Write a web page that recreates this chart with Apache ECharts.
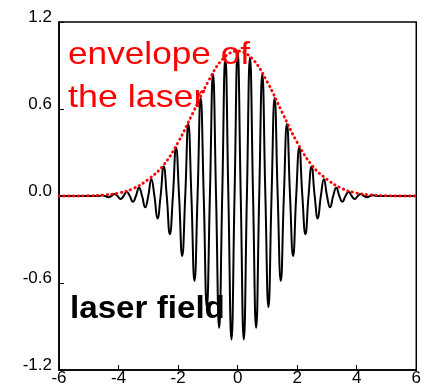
<!DOCTYPE html>
<html>
<head>
<meta charset="utf-8">
<script src="https://cdn.jsdelivr.net/npm/echarts@6/dist/echarts.min.js"></script>
<style>
html,body{margin:0;padding:0;background:#fff;}
#c{width:424px;height:387px;}
</style>
</head>
<body>
<div id="c"></div>
<script>
// Laser field: extrema (peaks/troughs)
const peakX = [-4.554, -4.347, -4.14, -3.933, -3.726, -3.519, -3.312, -3.105, -2.898, -2.691, -2.484, -2.277, -2.07, -1.863, -1.656, -1.449, -1.242, -1.035, -0.828, -0.621, -0.414, -0.207,
  0,
  0.207, 0.414, 0.621, 0.828, 1.035, 1.242, 1.449, 1.656, 1.863, 2.07, 2.277, 2.484, 2.691, 2.898, 3.105, 3.312, 3.519, 3.726, 3.933, 4.14, 4.347, 4.554];
const peakY = [0.005, -0.008, 0.013, -0.02, 0.03, -0.04, 0.057, -0.078, 0.116, -0.155, 0.203, -0.263, 0.334, -0.413, 0.496, -0.586, 0.676, -0.766, 0.842, -0.909, 0.956, -0.99,
  1.0,
  -0.99, 0.956, -0.909, 0.842, -0.766, 0.676, -0.586, 0.496, -0.413, 0.334, -0.263, 0.203, -0.155, 0.116, -0.078, 0.057, -0.04, 0.03, -0.02, 0.013, -0.008, 0.005];
// Points where the field is on the zero line (crossings and flat ends)
const zeroX = [-6, -4.658, -4.451, -4.244, -4.037, -3.83, -3.623, -3.416, -3.209, -3.002, -2.795, -2.588, -2.381, -2.174, -1.967, -1.76, -1.553, -1.346, -1.139, -0.932, -0.725, -0.518, -0.311, -0.104,
  0.104, 0.311, 0.518, 0.725, 0.932, 1.139, 1.346, 1.553, 1.76, 1.967, 2.174, 2.381, 2.588, 2.795, 3.002, 3.209, 3.416, 3.623, 3.83, 4.037, 4.244, 4.451, 4.658, 6];

// Envelope of the laser
const envX = [-6, -5.5, -5, -4.5, -4, -3.5, -3, -2.5, -2, -1.5, -1, -0.5, 0, 0.5, 1, 1.5, 2, 2.5, 3, 3.5, 4, 4.5, 5, 5.5, 6];
const envY = [0, 0, 0.002, 0.007, 0.02, 0.052, 0.115, 0.21, 0.37, 0.575, 0.785, 0.945, 1.0, 0.945, 0.785, 0.575, 0.37, 0.21, 0.115, 0.052, 0.02, 0.007, 0.002, 0, 0];

const xTicks = [-6, -4, -2, 0, 2, 4, 6];
const yTicks = [-1.2, -0.6, 0.0, 0.6, 1.2];

const fieldData = peakX.map((x, i) => [x, peakY[i]])
  .concat(zeroX.map(x => [x, 0]))
  .sort((a, b) => a[0] - b[0]);
const envData = envX.map((x, i) => [x, envY[i]]);

const chart = echarts.init(document.getElementById('c'), null, {renderer: 'canvas'});
const FONT = '"Liberation Sans", Arial, sans-serif';
chart.setOption({
  animation: false,
  backgroundColor: '#fff',
  grid: {left: 59, right: 7, top: 22, bottom: 17, show: true, borderColor: '#000', borderWidth: 1.5, backgroundColor: 'transparent'},
  xAxis: {
    type: 'value', min: xTicks[0], max: xTicks[xTicks.length - 1], interval: 2,
    axisLine: {show: true, onZero: false, lineStyle: {color: '#000', width: 1.5}},
    axisTick: {show: true, inside: true, length: 5, lineStyle: {color: '#000', width: 1}},
    axisLabel: {show: true, color: '#000', fontSize: 17, fontFamily: FONT, margin: 0,
      formatter: v => String(Math.round(v))},
    splitLine: {show: false}
  },
  yAxis: {
    type: 'value', min: yTicks[0], max: yTicks[yTicks.length - 1], interval: 0.6,
    axisLine: {show: true, onZero: false, lineStyle: {color: '#000', width: 1.5}},
    axisTick: {show: true, inside: true, length: 5, lineStyle: {color: '#000', width: 1}},
    axisLabel: {show: true, color: '#000', fontSize: 17, fontFamily: FONT, margin: 7,
      verticalAlign: 'bottom', lineHeight: 10,
      formatter: v => v.toFixed(1)},
    splitLine: {show: false}
  },
  series: [
    {type: 'line', data: fieldData, smooth: 0.5, showSymbol: false, symbol: 'none',
      lineStyle: {color: '#000', width: 2}, z: 2},
    {type: 'line', data: envData, smooth: 0.4, showSymbol: false, symbol: 'none',
      lineStyle: {color: '#ff0000', width: 2.8, type: [0.5, 4.3], cap: 'round'}, z: 3}
  ],
  graphic: [
    {type: 'text', x: 68, y: 55, scaleX: 1.1, z: 10, style: {text: 'envelope of', fill: '#ff0000', font: '32px ' + FONT, verticalAlign: 'middle', align: 'left'}},
    {type: 'text', x: 68, y: 98, scaleX: 1.12, z: 10, style: {text: 'the laser', fill: '#ff0000', font: '32px ' + FONT, verticalAlign: 'middle', align: 'left'}},
    {type: 'text', x: 70, y: 309, scaleX: 1.07, z: 10, style: {text: 'laser field', fill: '#000', font: 'bold 31px ' + FONT, verticalAlign: 'middle', align: 'left'}}
  ]
});
</script>
</body>
</html>
